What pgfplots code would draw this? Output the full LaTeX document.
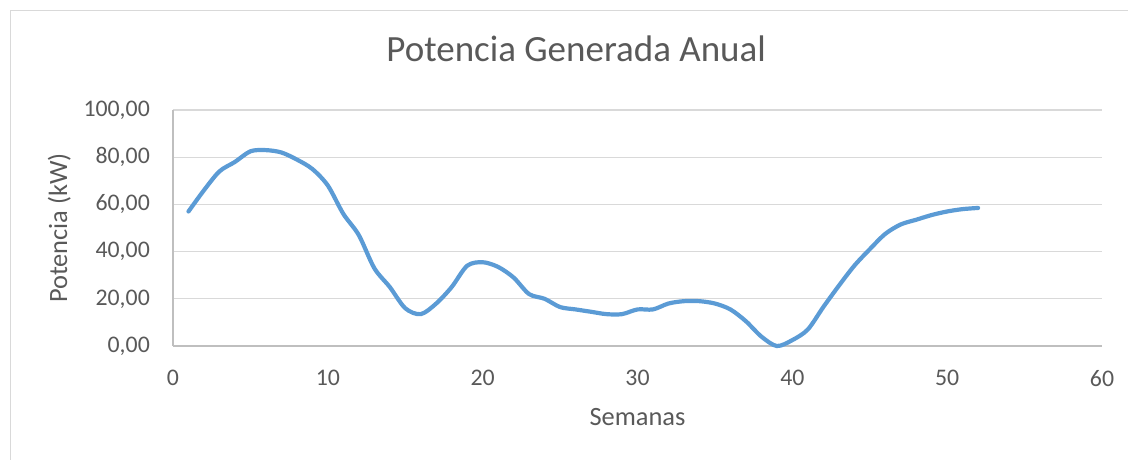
\documentclass[border=0pt]{standalone}
\usepackage{pgfplots}
\pgfplotsset{compat=1.18}
\usepackage{fontspec}
\setmainfont{Carlito}
\definecolor{txtgray}{HTML}{595959}
\definecolor{gridgray}{HTML}{D9D9D9}
\definecolor{axgray}{HTML}{BFBFBF}
\definecolor{linecol}{HTML}{5B9BD5}
\begin{document}
\begin{tikzpicture}[x=1pt,y=1pt]
\useasboundingbox (0,0) rectangle (1128,459);
\draw[color=gridgray, line width=1.2pt] (10.5,-5) -- (10.5,448.5) -- (1140,448.5);
\begin{axis}[
  at={(173pt,113pt)}, anchor=south west,
  scale only axis, width=929pt, height=236pt,
  xmin=0, xmax=60, ymin=0, ymax=100,
  xtick={0,10,...,60}, ytick={0,20,...,100},
  ymajorgrids, grid style={color=gridgray, line width=1.2pt},
  axis x line*=bottom, axis y line*=left,
  axis line style={-, color=axgray, line width=1.2pt},
  major tick length=0pt,
  /pgf/number format/assume math mode=true,
  yticklabel style={/pgf/number format/use comma, /pgf/number format/fixed, /pgf/number format/fixed zerofill, /pgf/number format/precision=2},
  ticklabel style={font=\fontsize{23.8}{26}\selectfont, color=txtgray, inner sep=0pt},
  xticklabel style={anchor=north, yshift=-24pt},
  yticklabel style={anchor=east, xshift=-23pt},
  title={Potencia Generada Anual},
  title style={at={(axis description cs:0.434,1.178)}, anchor=base, font=\fontsize{37}{40}\selectfont, color=txtgray, inner sep=0pt},
  xlabel={Semanas},
  xlabel style={at={(axis description cs:0.5,-0.335)}, anchor=base, font=\fontsize{26.4}{29}\selectfont, color=txtgray, inner sep=0pt},
  ylabel={Potencia (kW)},
  ylabel style={at={(axis description cs:-0.114,0.5)}, anchor=base, font=\fontsize{26.4}{29}\selectfont, color=txtgray, inner sep=0pt},
  clip=false,
]
\addplot[color=linecol, line width=4.2pt, smooth, line cap=round, line join=round] coordinates {
(1,57) (2,66) (3,74) (4,78) (5,82.5) (6,83) (7,82) (8,79) (9,75) (10,68)
(11,56) (12,47) (13,33) (14,25) (15,16) (16,13.5) (17,18) (18,25) (19,34) (20,35.5)
(21,33.5) (22,29) (23,22) (24,20) (25,16.5) (26,15.5) (27,14.5) (28,13.5) (29,13.5) (30,15.5)
(31,15.5) (32,18) (33,19) (34,19) (35,18) (36,15.5) (37,10.5) (38,4) (39,0) (40,2.5)
(41,7) (42,16.5) (43,25.5) (44,34) (45,41) (46,47.5) (47,51.5) (48,53.5) (49,55.5) (50,57)
(51,58) (52,58.5)
};
\end{axis}
\end{tikzpicture}
\end{document}
